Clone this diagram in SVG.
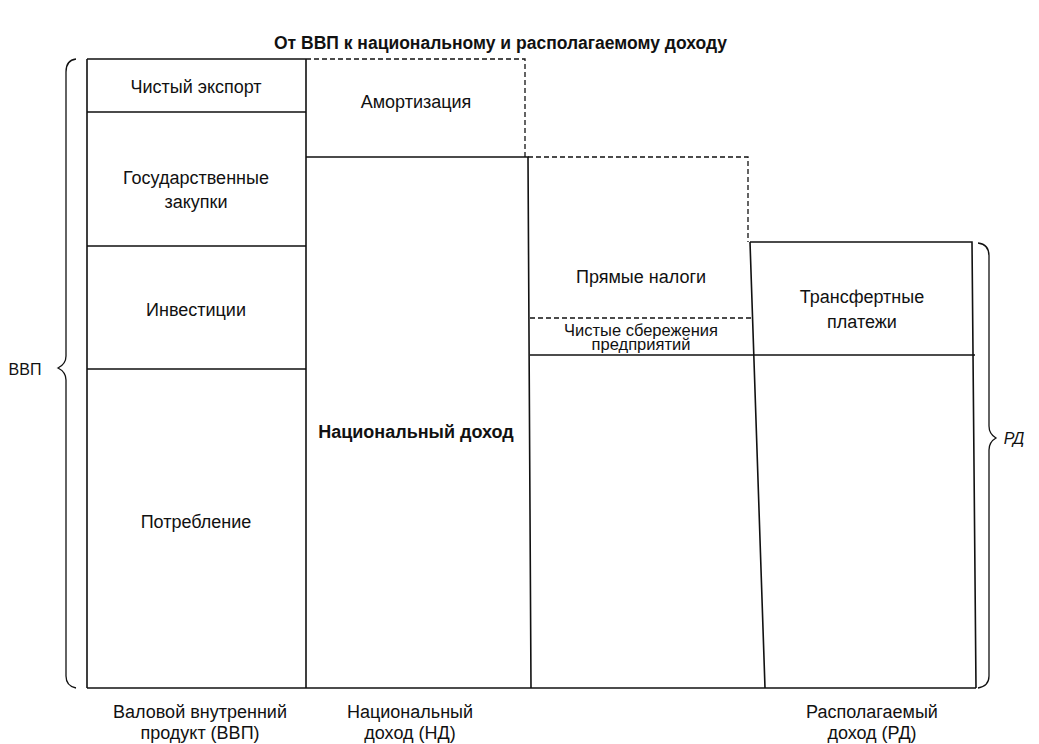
<svg xmlns="http://www.w3.org/2000/svg" width="1039" height="744" viewBox="0 0 1039 744">
<style>
text{font-family:"Liberation Sans",Arial,sans-serif;font-size:18px;fill:#111;text-anchor:middle}
.t{font-weight:bold;font-size:17.5px}
.s{fill:none;stroke:#111;stroke-width:1.6}
.d{fill:none;stroke:#111;stroke-width:1.3;stroke-dasharray:5 3}
.b{fill:none;stroke:#111;stroke-width:1.3}
</style>
<rect width="1039" height="744" fill="#fff"/>
<text class="t" x="727" y="49" style="text-anchor:end">От ВВП к национальному и располагаемому доходу</text>
<g id="gdp">
<path class="s" d="M87 59 H306 M87 59 V688 M306 59 V688 M87 112 H306 M87 246 H306 M87 369 H306"/>
<text x="196" y="93">Чистый экспорт</text>
<text x="196" y="184">Государственные</text>
<text x="196" y="208">закупки</text>
<text x="196" y="316">Инвестиции</text>
<text x="196" y="528">Потребление</text>
</g>
<g id="ni">
<path class="d" d="M306 59 H525 V157"/>
<path class="s" d="M306 157 H528 L531 688"/>
<text x="416" y="108">Амортизация</text>
<text x="416" y="438" style="font-weight:600">Национальный доход</text>
</g>
<g id="di">
<path class="d" d="M528 157 H748 V242"/>
<path class="d" d="M530 318 H752"/>
<path class="s" d="M530 355 H975"/>
<path class="s" d="M750 242 H972 L976 688 M750 242 L765 688"/>
<text x="641" y="283">Прямые налоги</text>
<text x="641" y="336" style="font-size:16.5px">Чистые сбережения</text>
<text x="641" y="350" style="font-size:16.5px">предприятий</text>
<text x="862" y="303">Трансфертные</text>
<text x="862" y="328">платежи</text>
</g>
<g id="base">
<path class="s" d="M87 688 H976"/>
<text x="200" y="718">Валовой внутренний</text>
<text x="200" y="739">продукт (ВВП)</text>
<text x="410" y="718">Национальный</text>
<text x="410" y="739">доход (НД)</text>
<text x="872" y="718">Располагаемый</text>
<text x="872" y="739">доход (РД)</text>
</g>
<g id="braces">
<path class="b" d="M76 59 Q66 60 66 72 V356 Q66 364 58 368 Q66 372 66 380 V676 Q66 686 76 688"/>
<text x="25" y="375" style="font-size:16px">ВВП</text>
<path class="b" d="M978 243 Q989 244 989 256 V426 Q989 434 996 438 Q989 442 989 450 V676 Q989 686 978 688"/>
<text x="1014" y="444" style="font-size:16px;font-style:italic">РД</text>
</g>
</svg>
